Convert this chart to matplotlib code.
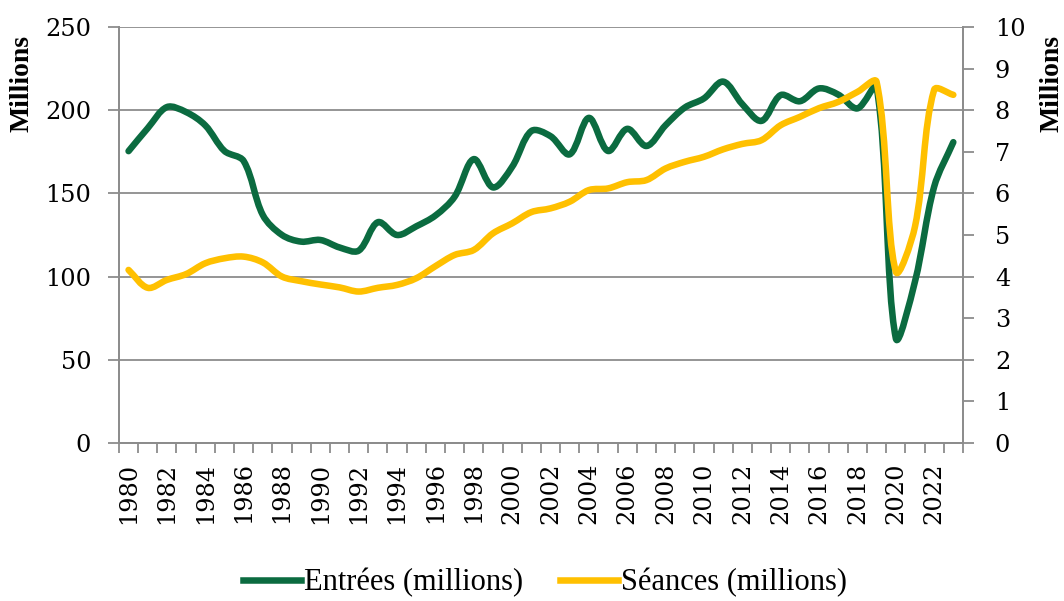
import numpy as np
import matplotlib.pyplot as plt
from matplotlib.path import Path
from matplotlib.patches import PathPatch
from matplotlib.lines import Line2D

plt.rcParams['font.family'] = ['Liberation Serif', 'DejaVu Serif']

# Data
years = list(range(1980, 2024))
entrees = [175.4, 189.2, 201.9, 198.9, 190.9, 175.5, 169.5, 137.0, 125.0, 121.0,
           122.0, 117.5, 115.6, 132.7, 125.0, 130.2, 136.7, 148.0, 170.6, 153.6,
           166.0, 187.5, 184.4, 173.5, 195.4, 175.5, 188.8, 178.5, 191.0, 201.6,
           207.1, 217.2, 203.6, 193.6, 209.1, 205.4, 213.1, 209.4, 201.1, 214.0,
           63.0, 97.0, 154.0, 180.8]
seances = [4.16, 3.73, 3.92, 4.06, 4.32, 4.44, 4.48, 4.34, 4.00, 3.89,
           3.81, 3.74, 3.64, 3.73, 3.80, 3.96, 4.25, 4.52, 4.64, 5.04,
           5.28, 5.55, 5.64, 5.80, 6.08, 6.12, 6.27, 6.32, 6.60, 6.76,
           6.88, 7.06, 7.19, 7.28, 7.64, 7.84, 8.05, 8.20, 8.44, 8.68,
           4.12, 5.20, 8.49, 8.37]
labels = ['Entrées (millions)', 'Séances (millions)']

green = '#0b6b40'
gold = '#ffc000'
grey = '#8c8c8c'
tickFont = 'DejaVu Serif'
tickSize = 17.3


def smoothPath(xs, ys, sx, sy):
    '''
        Excel-like smoothed line: cubic Bezier segments through every point,
        control arms scaled by the on-screen segment lengths (sx, sy = px per unit)
    '''
    pts = np.column_stack([np.asarray(xs) * sx, np.asarray(ys) * sy]).astype(float)
    n = len(pts)
    d = np.hypot(*np.diff(pts, axis=0).T)
    verts = [pts[0]]
    codes = [Path.MOVETO]
    for i in range(n - 1):
        # outgoing arm at point i
        if i == 0:
            c1 = pts[i] + (pts[i + 1] - pts[i]) / 3
        else:
            t = pts[i + 1] - pts[i - 1]
            c1 = pts[i] + t * d[i] / (d[i - 1] + d[i]) / 3
        # incoming arm at point i+1
        if i + 1 == n - 1:
            c2 = pts[i + 1] - (pts[i + 1] - pts[i]) / 3
        else:
            t = pts[i + 2] - pts[i]
            c2 = pts[i + 1] - t * d[i] / (d[i] + d[i + 1]) / 3
        verts += [c1, c2, pts[i + 1]]
        codes += [Path.CURVE4] * 3
    verts = np.array(verts) / [sx, sy]
    return Path(verts, codes)


fig = plt.figure(figsize=(10.64, 6.01), dpi=100)
ax = fig.add_axes([0.1118, 0.263, 0.7932, 0.692])
ax2 = ax.twinx()

x = np.arange(len(years))

# pixels per data unit, for the smoothing
axW = 0.7932 * 1064
axH = 0.692 * 601
sx = axW / len(years)

ax.add_patch(PathPatch(smoothPath(x, entrees, sx, axH / 250), fill=False, ec=green,
                       lw=4.7, capstyle='round', joinstyle='round'))
ax2.add_patch(PathPatch(smoothPath(x, seances, sx, axH / 10), fill=False, ec=gold,
                        lw=4.7, capstyle='round', joinstyle='round'))

ax.set_xlim(-0.5, len(years) - 0.5)
ax.set_ylim(0, 250)
ax2.set_ylim(0, 10)
ax.set_yticks(range(0, 251, 50))
ax2.set_yticks(range(0, 11))

ax.grid(axis='y', color=grey, lw=1.3)
ax.set_axisbelow(True)

for a in (ax, ax2):
    a.spines['top'].set_visible(False)
    for s in ('left', 'right', 'bottom'):
        a.spines[s].set_color(grey)
        a.spines[s].set_linewidth(1.3)

# category boundaries get the tick marks, every second year gets a label
ax.set_xticks(np.arange(-0.5, len(years)), labels=[])
ax.set_xticks(x[::2], labels=[str(y) for y in years[::2]], minor=True)
ax.tick_params(axis='x', which='major', length=7, width=1.3, color=grey)
ax.tick_params(axis='x', which='minor', length=0, pad=14, labelsize=tickSize, rotation=90)
ax.tick_params(axis='y', length=8, width=1.3, color=grey, pad=12, labelsize=tickSize)
ax2.tick_params(axis='y', length=8, width=1.3, color=grey, pad=15, labelsize=tickSize)
for lab in ax.get_xticklabels(minor=True) + ax.get_yticklabels() + ax2.get_yticklabels():
    lab.set_fontfamily(tickFont)

fig.text(22 / 1064, 1 - 84 / 601, 'Millions', rotation=90, fontsize=20,
         fontweight='bold', ha='center', va='center')
fig.text(1052 / 1064, 1 - 84 / 601, 'Millions', rotation=90, fontsize=20,
         fontweight='bold', ha='center', va='center')

handles = [Line2D([], [], color=green, lw=4.7), Line2D([], [], color=gold, lw=4.7)]
fig.legend(handles, labels, loc='center', bbox_to_anchor=(0.512, 0.03), ncol=2,
           frameon=False, fontsize=22, handlelength=1.9, handletextpad=0.1,
           columnspacing=1.2, borderaxespad=0, borderpad=0)

fig.savefig('out.png', dpi=100)
